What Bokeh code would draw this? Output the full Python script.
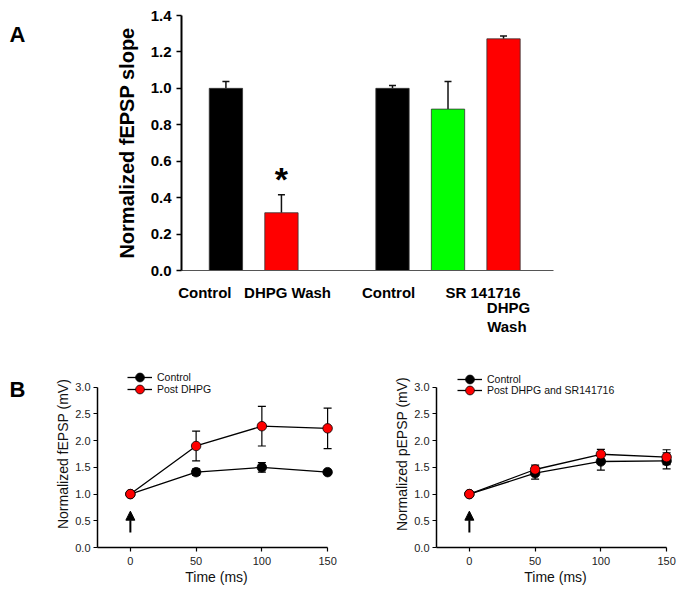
from bokeh.plotting import figure
from bokeh.models import (ColumnDataSource, Whisker, TeeHead, NormalHead, Arrow, Label,
                          Legend, LegendItem, FixedTicker, NumeralTickFormatter, Range1d,
                          LinearAxis)
from bokeh.core.properties import value
from bokeh.layouts import column, row
from bokeh.embed import file_html
from bokeh.resources import INLINE

# ---------------- Panel A data ----------------
a_positions = [0, 1, 3, 4, 5]
a_values = [1.0, 0.317, 1.0, 0.886, 1.272]
a_errors = [0.037, 0.099, 0.016, 0.152, 0.016]
a_colors = ["#000000", "#FF0000", "#000000", "#00FF00", "#FF0000"]
a_label_text = ["Control", "DHPG Wash", "Control", "SR 141716"]
a_label_x = [-0.38, 1.11, 2.93, 4.63]
a_label2_text = ["DHPG"]
a_label2_x = [5.09]
a_label3_text = ["Wash"]
a_label3_x = [5.06]
a_yticks = [0.0, 0.2, 0.4, 0.6, 0.8, 1.0, 1.2, 1.4]
a_star_x, a_star_y = 1, 0.50

# ---------------- Panel B data ----------------
b_time = [0, 50, 100, 150]
bl_control = [1.0, 1.41, 1.50, 1.41]
bl_control_err = [0.0, 0.06, 0.09, 0.03]
bl_dhpg = [1.0, 1.90, 2.27, 2.23]
bl_dhpg_err = [0.0, 0.28, 0.37, 0.38]
br_control = [1.0, 1.39, 1.61, 1.62]
br_control_err = [0.0, 0.11, 0.16, 0.15]
br_sr = [1.0, 1.46, 1.745, 1.69]
br_sr_err = [0.0, 0.08, 0.09, 0.14]
b_yticks = [0.0, 0.5, 1.0, 1.5, 2.0, 2.5, 3.0]
b_xticks = [0, 50, 100, 150]
arrow_x = 0
arrow_y = [0.28, 0.68]

FONT = "Liberation Sans"


def letter_fig(h, letter, y):
    f = figure(width=36, height=h, x_range=Range1d(0, 36), y_range=Range1d(h, 0),
               min_border=0, toolbar_location=None, output_backend="svg",
               x_axis_location=None, y_axis_location=None)
    f.grid.visible = False
    f.outline_line_color = None
    f.text(x=[17], y=[y], text=[letter], text_font=value(FONT), text_font_style="bold",
           text_font_size="22px", text_align="center", text_baseline="middle",
           text_color="black")
    return f


# ---------------- Panel A ----------------
pa = figure(width=649, height=348, x_range=Range1d(-0.8, 5.9), y_range=Range1d(0, 1.4),
            output_backend="svg", toolbar_location=None,
            min_border_left=145, min_border_right=132, min_border_top=15, min_border_bottom=78)
pa.xgrid.visible = False
pa.ygrid.visible = False
pa.outline_line_color = None

src_a = ColumnDataSource(dict(x=a_positions, top=a_values,
                              upper=[v + e for v, e in zip(a_values, a_errors)],
                              color=a_colors))
pa.vbar(x="x", top="top", width=0.6, fill_color="color", line_color="#333333",
        line_width=0.8, source=src_a)
pa.add_layout(Whisker(base="x", lower="top", upper="upper", source=src_a,
                      upper_head=TeeHead(size=7, line_width=1.5, line_color="#111111"),
                      lower_head=None, line_width=1.5, line_color="#111111"))

pa.yaxis.ticker = FixedTicker(ticks=a_yticks)
pa.yaxis.formatter = NumeralTickFormatter(format="0.0")
pa.yaxis.major_label_text_font = FONT
pa.yaxis.major_label_text_font_style = "bold"
pa.yaxis.major_label_text_font_size = "15px"
pa.yaxis.major_label_text_color = "black"
pa.yaxis.major_tick_in = 0
pa.yaxis.major_tick_out = 5
pa.yaxis.major_tick_line_width = 1.5
pa.yaxis.minor_tick_line_color = None
pa.yaxis.axis_line_width = 2
pa.yaxis.major_label_standoff = 5
pa.yaxis.axis_label = "Normalized fEPSP slope"
pa.yaxis.axis_label_text_font = FONT
pa.yaxis.axis_label_text_font_style = "bold"
pa.yaxis.axis_label_text_font_size = "20px"
pa.yaxis.axis_label_text_color = "black"
pa.yaxis.axis_label_standoff = 10


def style_cat_axis(ax, ticks, labels, standoff):
    ax.ticker = FixedTicker(ticks=ticks)
    ax.major_label_overrides = {t: l for t, l in zip(ticks, labels)}
    ax.major_tick_in = 0
    ax.major_tick_out = 0
    ax.major_tick_line_color = None
    ax.minor_tick_line_color = None
    ax.major_label_standoff = standoff
    ax.major_label_text_font = FONT
    ax.major_label_text_font_style = "bold"
    ax.major_label_text_font_size = "15px"
    ax.major_label_text_color = "black"


xa1 = pa.xaxis[0]
style_cat_axis(xa1, a_label_x, a_label_text, 13)
xa1.axis_line_color = "#555555"
xa1.axis_line_width = 1
xa2 = LinearAxis()
style_cat_axis(xa2, a_label2_x, a_label2_text, -5)
xa2.axis_line_color = None
pa.add_layout(xa2, "below")
xa3 = LinearAxis()
style_cat_axis(xa3, a_label3_x, a_label3_text, -1)
xa3.axis_line_color = None
pa.add_layout(xa3, "below")

pa.add_layout(Label(x=a_star_x, y=a_star_y, text="*", text_font=FONT, text_font_style="bold",
                    text_font_size="34px", text_align="center", text_baseline="alphabetic",
                    text_color="black"))


# ---------------- Panel B ----------------
def make_b(width, mbl, mbr, ylabel, ctrl, ctrl_err, trt, trt_err, trt_label, leg_x, leg_y):
    p = figure(width=width, height=242, x_range=Range1d(-25, 156), y_range=Range1d(0, 3.5),
               output_backend="svg", toolbar_location=None,
               min_border_left=mbl, min_border_right=mbr, min_border_top=12, min_border_bottom=43)
    p.xgrid.visible = False
    p.ygrid.visible = False
    p.outline_line_color = None

    sc = ColumnDataSource(dict(x=b_time, y=ctrl,
                               lo=[v - e for v, e in zip(ctrl, ctrl_err)],
                               hi=[v + e for v, e in zip(ctrl, ctrl_err)]))
    st = ColumnDataSource(dict(x=b_time, y=trt,
                               lo=[v - e for v, e in zip(trt, trt_err)],
                               hi=[v + e for v, e in zip(trt, trt_err)]))
    for s in (sc, st):
        p.add_layout(Whisker(base="x", lower="lo", upper="hi", source=s, level="underlay",
                             upper_head=TeeHead(size=8, line_width=1.2),
                             lower_head=TeeHead(size=8, line_width=1.2), line_width=1.2))
    lc = p.line("x", "y", source=sc, line_color="black", line_width=1.3)
    mc = p.scatter("x", "y", source=sc, size=9.5, fill_color="black", line_color="black",
                   line_width=0.8)
    lt = p.line("x", "y", source=st, line_color="black", line_width=1.3)
    mt = p.scatter("x", "y", source=st, size=9.5, fill_color="#FF0000", line_color="black",
                   line_width=0.8)

    p.add_layout(Arrow(x_start=arrow_x, y_start=arrow_y[0], x_end=arrow_x, y_end=arrow_y[1],
                       line_width=2, line_color="black",
                       end=NormalHead(size=9, fill_color="black", line_color="black")))

    for lab, rends, ly in (("Control", [lc, mc], leg_y[0]), (trt_label, [lt, mt], leg_y[1])):
        legend = Legend(items=[LegendItem(label=lab, renderers=rends)],
                        location=(leg_x, ly), glyph_width=25, glyph_height=22, spacing=0,
                        padding=0, margin=0, label_standoff=5, label_height=12,
                        border_line_color=None, background_fill_alpha=0,
                        label_text_font=FONT, label_text_font_size="10.5px",
                        label_text_color="#111111")
        p.add_layout(legend)

    p.yaxis.bounds = (0, 3)
    p.xaxis.bounds = (-25, 150)
    for ax in (p.xaxis, p.yaxis):
        ax.major_label_text_font = FONT
        ax.major_label_text_font_size = "11px"
        ax.major_label_text_color = "#222222"
        ax.major_tick_in = 0
        ax.major_tick_out = 4
        ax.minor_tick_line_color = None
        ax.axis_line_width = 1.5
        ax.major_tick_line_width = 1.2
        ax.axis_label_text_font = FONT
        ax.axis_label_text_font_style = "normal"
        ax.axis_label_text_font_size = "14px"
        ax.axis_label_text_color = "#111111"
        ax.major_label_standoff = 3
    p.xaxis.major_label_standoff = 5
    p.yaxis.ticker = FixedTicker(ticks=b_yticks)
    p.yaxis.formatter = NumeralTickFormatter(format="0.0")
    p.xaxis.ticker = FixedTicker(ticks=b_xticks)
    p.yaxis.axis_label = ylabel
    p.xaxis.axis_label = "Time (ms)"
    p.yaxis.axis_label_standoff = 1
    p.xaxis.axis_label_standoff = 1
    return p


pbl = make_b(309, 61, 10, "Normalized fEPSP (mV)", bl_control, bl_control_err,
             bl_dhpg, bl_dhpg_err, "Post DHPG", 30, (159, 147))
pbr = make_b(339, 91, 10, "Normalized pEPSP (mV)", br_control, br_control_err,
             br_sr, br_sr_err, "Post DHPG and SR141716", 21, (157, 146))

fa = letter_fig(348, "A", 26)
fb = letter_fig(242, "B", 37)

layout = column(row(fa, pa), row(fb, pbl, pbr))
open("out.html", "w").write(file_html(layout, INLINE))
